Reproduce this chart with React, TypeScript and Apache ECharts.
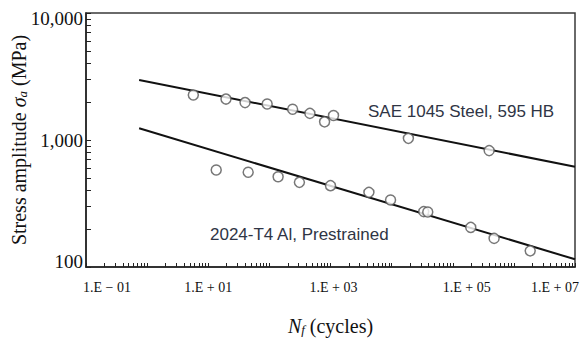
import React, { useEffect, useRef } from "react";
import * as echarts from "echarts";

// Data (cycles N_f, stress amplitude in MPa)
const steelCycles = [5.7, 19.5, 40, 92, 240, 460, 800, 1120, 18800, 394000];
const steelStress = [2260, 2100, 1970, 1920, 1745, 1620, 1390, 1560, 1030, 825];
const alCycles = [13.5, 45, 139, 310, 1000, 4250, 9600, 33500, 39000, 197000, 475000, 1850000];
const alStress = [580, 557, 514, 464, 437, 387, 337, 273, 271, 205, 168, 134];
// Fitted lines (end points)
const steelFitCycles = [0.74, 1e7];
const steelFitStress = [2970, 616];
const alFitCycles = [0.74, 1e7];
const alFitStress = [1236, 115];

// Axis ticks / labels
const xDecades = [-1, 0, 1, 2, 3, 4, 5, 6];
const yDecades = [2, 3];
const minorMultipliers = [1, 2, 3, 4, 5, 6, 7, 8, 9];
const xLabelValues = [0.1, 10, 1e3, 1e5, 1e7];
const yLabelValues = [100, 1000, 10000];

const steelLabel = "SAE 1045 Steel, 595 HB";
const alLabel = "2024-T4 Al, Prestrained";

const xTickValues: number[] = [];
xDecades.forEach((d) => minorMultipliers.forEach((m) => xTickValues.push(m * Math.pow(10, d))));
xTickValues.push(1e7);
const yTickValues: number[] = [];
yDecades.forEach((d) => minorMultipliers.forEach((m) => yTickValues.push(m * Math.pow(10, d))));
yTickValues.push(1e4);

const SERIF = "'Liberation Serif', 'Times New Roman', serif";
const SANS = "'Liberation Sans', Arial, sans-serif";

function zip(a: number[], b: number[]) {
  return a.map((v, i) => [v, b[i]]);
}

export default function App() {
  const ref = useRef<HTMLDivElement>(null);
  useEffect(() => {
    if (!ref.current) return;
    const chart = echarts.init(ref.current, null, { renderer: "svg" });
    const xRich: any = {};
    const xPads: Record<string, number[]> = {
      m1: [0, 0, 0, 42],
      p1: [0, 0, 0, 0],
      p3: [0, 0, 0, 6],
      p5: [0, 0, 0, 28],
      p7: [0, 40, 0, 0],
    };
    Object.keys(xPads).forEach((k) => {
      xRich[k] = { fontFamily: SERIF, fontSize: 14, color: "#111", padding: xPads[k] };
    });
    const yRich: any = {
      top: { fontFamily: SERIF, fontSize: 19, color: "#111", padding: [11, 0, 0, 0] },
      mid: { fontFamily: SERIF, fontSize: 19, color: "#111" },
      bot: { fontFamily: SERIF, fontSize: 19, color: "#111", padding: [0, 0, 11, 0] },
    };
    const option: any = {
      animation: false,
      backgroundColor: "#fff",
      grid: {
        left: 86,
        right: 5,
        top: 13,
        bottom: 76,
        containLabel: false,
        outerBoundsMode: "none",
        show: true,
        borderColor: "#3a3a3a",
        borderWidth: 1.5,
        backgroundColor: "transparent",
      },
      xAxis: {
        type: "log",
        logBase: 10,
        min: 0.1,
        max: 1e7,
        name: "{i|N}{s|f}{n| (cycles)}",
        nameLocation: "middle",
        nameGap: 48,
        nameMoveOverlap: false,
        nameTextStyle: {
          rich: {
            i: { fontFamily: SERIF, fontSize: 20, fontStyle: "italic", color: "#111" },
            s: { fontFamily: SERIF, fontSize: 13, fontStyle: "italic", color: "#111", verticalAlign: "bottom", padding: [8, 0, 0, 0] },
            n: { fontFamily: SERIF, fontSize: 20, color: "#111" },
          },
        },
        axisLine: { show: true, lineStyle: { color: "#222", width: 1.5 } },
        axisTick: { show: true, inside: true, length: 4, customValues: xTickValues, lineStyle: { color: "#222", width: 1 } },
        minorTick: { show: false },
        splitLine: { show: false },
        axisLabel: {
          customValues: xLabelValues,
          margin: 13,
          formatter: (v: number) => {
            const e = Math.round(Math.log10(v));
            const sign = e < 0 ? "\u2212" : "+";
            const txt = "1.E " + sign + " " + String(Math.abs(e)).padStart(2, "0");
            const key = (e < 0 ? "m" : "p") + Math.abs(e);
            return "{" + key + "|" + txt + "}";
          },
          rich: xRich,
        },
      },
      yAxis: {
        type: "log",
        logBase: 10,
        min: 100,
        max: 10000,
        name: "{n|Stress amplitude }{i|\u03c3}{s|a}{n| (MPa)}",
        nameLocation: "middle",
        nameRotate: 90,
        nameGap: 57,
        nameMoveOverlap: false,
        nameTextStyle: {
          rich: {
            i: { fontFamily: SERIF, fontSize: 20, fontStyle: "italic", color: "#111" },
            s: { fontFamily: SERIF, fontSize: 13, fontStyle: "italic", color: "#111", verticalAlign: "bottom", padding: [8, 0, 0, 0] },
            n: { fontFamily: SERIF, fontSize: 20, color: "#111" },
          },
        },
        axisLine: { show: true, lineStyle: { color: "#222", width: 1.5 } },
        axisTick: { show: true, inside: true, length: 5, customValues: yTickValues, lineStyle: { color: "#222", width: 1 } },
        minorTick: { show: false },
        splitLine: { show: false },
        axisLabel: {
          customValues: yLabelValues,
          margin: 3,
          formatter: (v: number) => {
            const r = Math.round(v);
            const txt = r.toLocaleString("en-US");
            const key = r >= 10000 ? "top" : r <= 100 ? "bot" : "mid";
            return "{" + key + "|" + txt + "}";
          },
          rich: yRich,
        },
      },
      series: [
        {
          type: "line",
          data: zip(steelFitCycles, steelFitStress),
          showSymbol: false,
          symbol: "none",
          lineStyle: { color: "#111", width: 2 },
          silent: true,
          z: 2,
        },
        {
          type: "line",
          data: zip(alFitCycles, alFitStress),
          showSymbol: false,
          symbol: "none",
          lineStyle: { color: "#111", width: 2 },
          silent: true,
          z: 2,
        },
        {
          type: "scatter",
          data: zip(steelCycles, steelStress),
          symbol: "circle",
          symbolSize: 10,
          itemStyle: { color: "#fff", borderColor: "#555", borderWidth: 1.5 },
          z: 3,
        },
        {
          type: "scatter",
          data: zip(alCycles, alStress),
          symbol: "circle",
          symbolSize: 10,
          itemStyle: { color: "#fff", borderColor: "#555", borderWidth: 1.5 },
          z: 3,
        },
      ],
      graphic: [
        {
          type: "text",
          left: 368,
          top: 103,
          style: { text: steelLabel, font: "17px " + SANS, fill: "#2f3545" },
        },
        {
          type: "text",
          left: 210,
          top: 226,
          style: { text: alLabel, font: "17px " + SANS, fill: "#2f3545" },
        },
      ],
    };
    chart.setOption(option);
    return () => chart.dispose();
  }, []);
  return (
    <div
      ref={ref}
      style={{ position: "fixed", left: 0, top: 0, width: 580, height: 343, background: "#fff" }}
    />
  );
}
